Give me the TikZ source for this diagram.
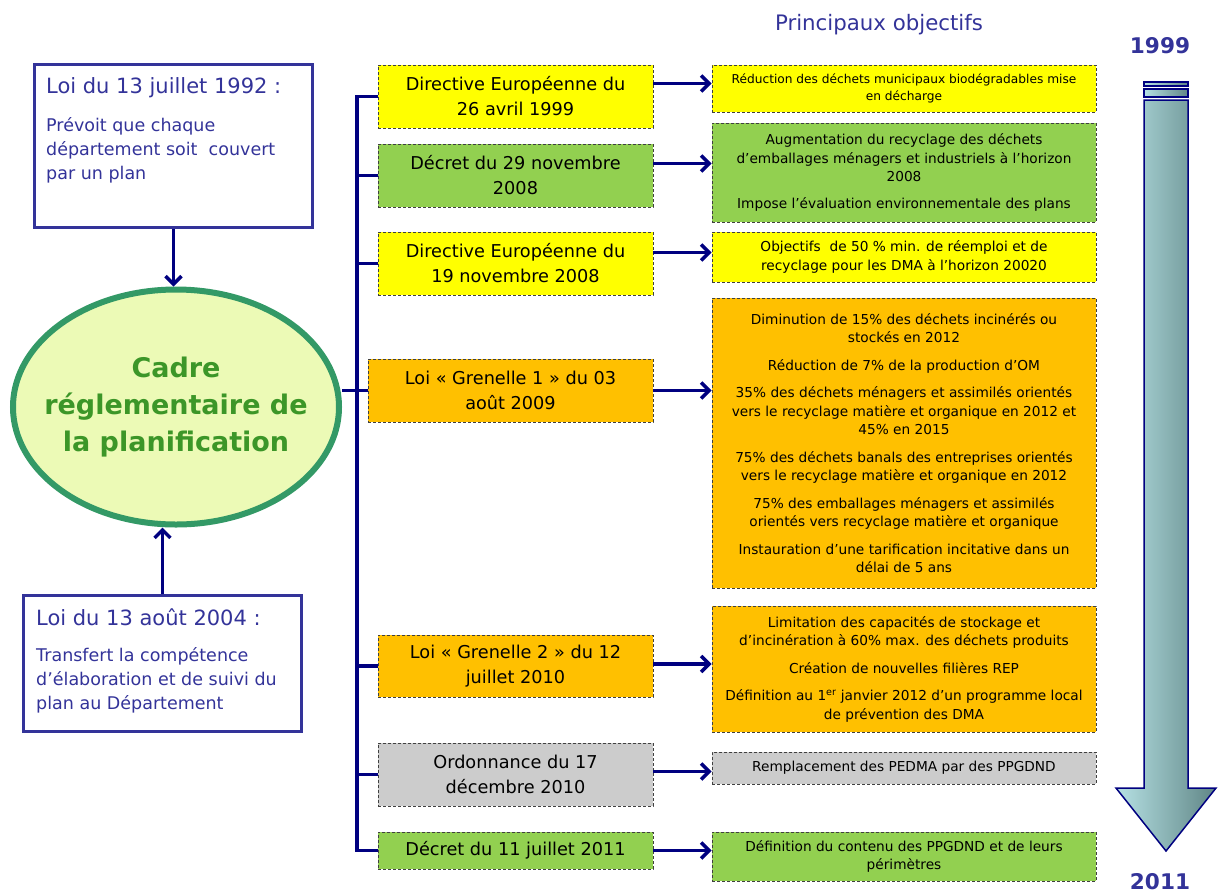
\documentclass[tikz,border=0pt]{standalone}
\usepackage{fontspec}
\setmainfont{DejaVu Sans}
\usetikzlibrary{shapes.geometric, arrows.meta, positioning, calc}

\definecolor{loiblue}{RGB}{51,51,153}
\definecolor{arrownavy}{RGB}{0,0,128}
\definecolor{boxyellow}{RGB}{255,255,0}
\definecolor{boxgreen}{RGB}{146,208,80}
\definecolor{boxorange}{RGB}{255,192,0}
\definecolor{boxgray}{RGB}{204,204,204}
\definecolor{cadregreen}{RGB}{51,153,102}
\definecolor{cadretext}{RGB}{60,150,40}
\definecolor{cadrefill}{RGB}{236,250,182}
\definecolor{timelight}{RGB}{182,225,228}
\definecolor{timedark}{RGB}{96,134,134}

\begin{document}
\begin{tikzpicture}[x=1pt, y=-1pt,
    lawbox/.style={draw=loiblue, line width=3pt, anchor=north west},
    lawtitle/.style={text=loiblue, anchor=west, inner sep=0pt, font=\fontsize{21}{25}\selectfont},
    lawtext/.style={text=loiblue, anchor=north west, align=left, inner sep=0pt, font=\fontsize{17.5}{24}\selectfont},
    textbox/.style={draw=black!75, densely dashed, line width=0.7pt, minimum width=275pt, minimum height=63pt, align=center, inner sep=1pt, font=\fontsize{17.7}{25}\selectfont},
    objbox/.style={draw=black!75, densely dashed, line width=0.7pt, minimum width=384pt, align=center, inner sep=1pt, font=\fontsize{13.7}{18.5}\selectfont},
    link/.style={draw=arrownavy, line width=3.5pt},
    arrow/.style={link, -{Straight Barb[length=8pt, width=16pt]}},
    year/.style={text=loiblue, font=\bfseries\fontsize{21.6}{25}\selectfont},
  ]
  \useasboundingbox (0,0) rectangle (1218,895);

  % Laws on the left
  \node[lawbox, minimum width=278pt, minimum height=163pt] (loi92) at (33,63) {};
  \node[lawtitle] (loi92t) at (46,88) {Loi du 13 juillet 1992 :};
  \node[lawtext] (loi92b) at (46,117) {Prévoit que chaque\\département soit~ couvert\\par un plan};

  \node[lawbox, minimum width=278pt, minimum height=136pt] (loi04) at (22,594) {};
  \node[lawtitle] (loi04t) at (36,617) {Loi du 13 août 2004 :};
  \node[lawtext] (loi04b) at (36,647) {Transfert la compétence\\d’élaboration et de suivi du\\plan au Département};

  % Central ellipse
  \node[ellipse, draw=cadregreen, line width=6pt, fill=cadrefill, minimum width=326pt, minimum height=235pt] (cadre) at (176,407) {};
  \node[align=center, text=cadretext, font=\bfseries\fontsize{27}{37}\selectfont] (cadrelbl) at (cadre.center)
        {Cadre\\réglementaire de\\la planification};

  \draw[arrow] (loi92.south) -- (loi92.south |- cadre.north);
  \draw[arrow] (loi04.north) -- (loi04.north |- cadre.south);

  % Texts
  \node[textbox, fill=boxyellow] (dir99) at (515.5,96.5) {Directive Européenne du\\26 avril 1999};
  \node[textbox, fill=boxgreen] (dec08) at (515.5,175.5) {Décret du 29 novembre\\2008};
  \node[textbox, fill=boxyellow] (dir08) at (515.5,263.5) {Directive Européenne du\\19 novembre 2008};
  \node[textbox, fill=boxorange, minimum width=285pt] (gren1) at (510.5,390.5) {Loi « Grenelle 1 » du 03\\août 2009};
  \node[textbox, fill=boxorange, minimum height=62pt] (gren2) at (515.5,666) {Loi « Grenelle 2 » du 12\\juillet 2010};
  \node[textbox, fill=boxgray] (ordo10) at (515.5,774.5) {Ordonnance du 17\\décembre 2010};
  \node[textbox, fill=boxgreen, minimum height=37pt] (dec11) at (515.5,850.5) {Décret du 11 juillet 2011};

  % Objectives
  \node[font=\fontsize{21.3}{25}\selectfont, text=loiblue] (objtitle) at (879,25) {Principaux objectifs};
  \node[objbox, fill=boxyellow, minimum height=47pt, font=\fontsize{12.2}{17}\selectfont] (obj99) at (904,88.5)
    {Réduction des déchets municipaux biodégradables mise\\en décharge};
  \node[objbox, fill=boxgreen, minimum height=99pt] (obj08a) at (904,172.5)
    {Augmentation du recyclage des déchets\\d’emballages ménagers et industriels à l’horizon\\2008\\[8pt]Impose l’évaluation environnementale des plans};
  \node[objbox, fill=boxyellow, minimum height=50pt] (obj08b) at (904,257)
    {Objectifs~ de 50 \% min. de réemploi et de\\recyclage pour les DMA à l’horizon 20020};
  \node[objbox, fill=boxorange, minimum height=290pt] (objg1) at (904,443)
    {Diminution de 15\% des déchets incinérés ou\\stockés en 2012\\[9pt]Réduction de 7\% de la production d’OM\\[9pt]35\% des déchets ménagers et assimilés orientés\\vers le recyclage matière et organique en 2012 et\\45\% en 2015\\[9pt]75\% des déchets banals des entreprises orientés\\vers le recyclage matière et organique en 2012\\[9pt]75\% des emballages ménagers et assimilés\\orientés vers recyclage matière et organique\\[9pt]Instauration d’une tarification incitative dans un\\délai de 5 ans};
  \node[objbox, fill=boxorange, minimum height=126pt] (objg2) at (904,669)
    {Limitation des capacités de stockage et\\d’incinération à 60\% max. des déchets produits\\[9pt]Création de nouvelles filières REP\\[9pt]Définition au 1\textsuperscript{er} janvier 2012 d’un programme local\\de prévention des DMA};
  \node[objbox, fill=boxgray, minimum height=32pt] (objord) at (904,768) {Remplacement des PEDMA par des PPGDND};
  \node[objbox, fill=boxgreen, minimum height=49pt] (obj11) at (904,856.5)
    {Définition du contenu des PPGDND et de leurs\\périmètres};

  % Tree of connectors
  \coordinate (trunk) at (357,0);
  \draw[link, line cap=rect] (dir99.west -| trunk) -- (dec11.west -| trunk);
  \foreach \b in {dir99,dec08,dir08,gren2,ordo10,dec11}
    \draw[link] (\b.west -| trunk) -- (\b.west);
  \draw[link] (cadre.east |- gren1.west) -- (gren1.west);

  \foreach \l/\o/\s in {dir99/obj99/13, dec08/obj08a/12, dir08/obj08b/11, gren1/objg1/0, gren2/objg2/2, ordo10/objord/3, dec11/obj11/0}{
    \coordinate (from) at ([yshift=\s pt]\l.east);
    \draw[arrow] (from) -- (from -| \o.west);
  }

  % Timeline arrow
  \shade[left color=timelight, right color=timedark, draw=arrownavy, line width=1.5pt]
    (1144,100) -- (1188,100) -- (1188,788) -- (1216,788) -- (1166,851) -- (1116,788) -- (1144,788) -- cycle;
  \shade[left color=timelight, right color=timedark, draw=arrownavy, line width=1.2pt] (1144,82) rectangle (1188,86);
  \shade[left color=timelight, right color=timedark, draw=arrownavy, line width=1.2pt] (1144,89) rectangle (1188,97);
  \node[year] (y1999) at (1160,46) {1999};
  \node[year] (y2011) at (1160,882) {2011};
\end{tikzpicture}
\end{document}
